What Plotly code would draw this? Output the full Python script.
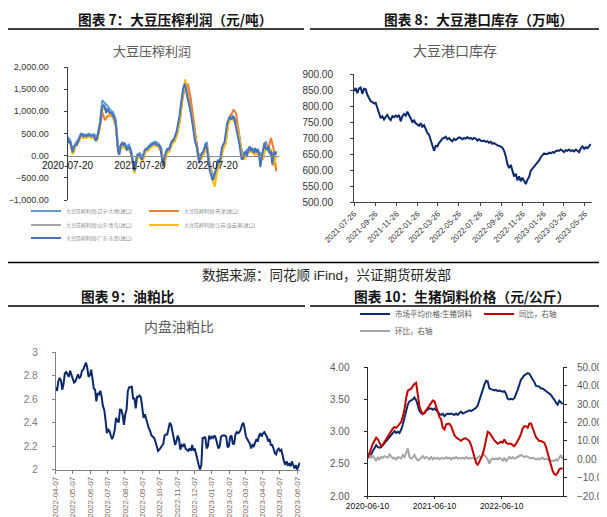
import pandas as pd
import plotly.graph_objects as go

W, H = 607, 517
FONT = "Liberation Sans, Noto Sans CJK SC, sans-serif"
CJK = "Noto Sans CJK SC, sans-serif"


def px(x):
    return x / W


def py(y):
    return 1 - y / H


# ---------------- 图表7：大豆压榨利润（元/吨）
crush_start, crush_end = "2020-07-20", "2023-06-09"
crush_names = ["大豆压榨利润:辽宁:大地(进口)", "大豆压榨利润:天津(进口)", "大豆压榨利润:山东:青岛(进口)",
               "大豆压榨利润:江苏:连云港(进口)", "大豆压榨利润:广东:东莞(进口)"]
crush_colors = ["#5b9bd5", "#ed7d31", "#a5a5a5", "#ffc000", "#4472c4"]
crush_liaoning = [430, 350, 110, 280, 360, 500, 470, 470, 500, 470, 480, 400, 700, 1250, 1180, 1120, 1030, 980, 820,
                  150, 250, 290, 210, 250, 60, -280, 10, 60, -50, 150, 190, 260, 300, 310, 270, 180, -200, 130, 170,
                  330, 400, 570, 880, 1400, 1650, 1360, 1100, 720, 340, 20, 20, 120, 310, -130, -390, -430, -240,
                  -120, 210, 340, 770, 920, 880, 780, 510, 140, -20, 130, 170, 160, 100, 140, 60, -10, 320, 180, 100,
                  -160, 70]
crush_tianjin = [370, 300, 50, 220, 300, 440, 400, 410, 440, 410, 420, 340, 600, 980, 800, 900, 900, 860, 700, 60,
                 180, 220, 140, 180, -20, -380, -60, -10, -120, 90, 120, 190, 230, 240, 200, 100, -260, 60, 100, 260,
                 330, 500, 800, 1300, 1550, 1620, 1300, 850, 300, -60, -60, 50, 250, -200, -470, -520, -310, -200,
                 140, 270, 700, 900, 1040, 950, 520, 60, -90, 60, 100, 90, 30, 80, 0, -90, 250, 150, 400, 150, -353]
crush_shandong = [380, 300, 60, 230, 310, 450, 420, 420, 450, 420, 430, 350, 640, 1060, 1080, 1030, 940, 900, 740,
                  80, 190, 230, 150, 190, 0, -350, -50, 0, -110, 100, 130, 200, 250, 260, 210, 120, -260, 70, 110,
                  280, 340, 510, 820, 1350, 1600, 1310, 1050, 670, 280, -40, -40, 60, 260, -190, -450, -490, -300,
                  -180, 150, 280, 710, 860, 820, 720, 450, 80, -70, 80, 110, 100, 40, 80, 0, -60, 260, 120, 40, -220,
                  60]
crush_jiangsu = [360, 280, 40, 210, 290, 430, 400, 400, 430, 400, 410, 330, 620, 1040, 1060, 1010, 920, 880, 720, 50,
                 170, 210, 130, 170, -30, -390, -80, -20, -140, 80, 110, 180, 230, 240, 190, 100, -280, 50, 90, 260,
                 320, 490, 800, 1330, 1720, 1290, 1030, 650, 260, -70, -70, 40, 240, -220, -500, -700, -330, -200,
                 130, 260, 690, 840, 800, 700, 430, 60, -90, 60, 90, 80, 20, 60, -20, -80, 240, 100, 150, -240, 40]
crush_guangdong = [399, 286, 323, 170, 75, 211, 248, 248, 330, 410, 470, 490, 436, 466, 440, 450, 470, 451, 440, 460,
                   450, 330, 376, 496, 662, 812, 1090, 1150, 1100, 963, 1060, 995, 963, 963, 920, 870, 760, 510, 100,
                   20, 211, 286, 248, 286, 173, 120, 211, 173, 23, -125, -330, -301, -30, 30, 20, -30, -90, 10, 110,
                   135, 150, 190, 220, 255, 265, 270, 280, 240, 230, 230, 140, -40, -241, -15, 90, 150, 135, 175, 300,
                   320, 360, 455, 530, 700, 850, 1090, 1376, 1514, 1624, 1527, 1330, 1226, 1075, 920, 690, 436, 300,
                   230, -15, -165, -20, 60, 80, 210, 280, 130, -165, -353, -429, -556, -466, -376, -278, -90, -165,
                   -53, 173, 248, 301, 511, 730, 810, 887, 810, 840, 887, 740, 610, 474, 300, 100, -90, -53, 60, 98, 0,
                   135, 211, 120, 150, 60, 173, 98, 120, 23, -256, -40, 100, 286, 160, 140, 211, 60, 80, -203, 80, 30,
                   98]
crush_series = [crush_liaoning, crush_tianjin, crush_shandong, crush_jiangsu, crush_guangdong]
crush_ticks = ["2020-07-20", "2021-07-20", "2022-07-20"]

# ---------------- 图表8：大豆港口库存（万吨）
stock_start, stock_end = "2021-07-26", "2023-06-12"
stock = [846, 856, 840, 855, 858, 838, 854, 852, 835, 825, 815, 812, 808, 810, 795, 775, 762, 768, 758, 766, 772, 762,
         756, 768, 765, 770, 766, 772, 752, 768, 775, 770, 782, 772, 760, 750, 755, 746, 742, 738, 746, 735, 740, 728,
         716, 710, 695, 675, 660, 675, 674, 684, 692, 698, 700, 704, 696, 700, 694, 690, 698, 694, 698, 702, 700, 696,
         700, 698, 703, 698, 700, 696, 700, 698, 692, 696, 692, 690, 692, 688, 690, 685, 688, 682, 684, 679, 677, 676,
         674, 670, 660, 643, 618, 606, 616, 594, 580, 588, 568, 580, 565, 576, 566, 556, 570, 578, 598, 604, 610, 616,
         622, 630, 640, 645, 652, 650, 650, 654, 652, 656, 654, 659, 661, 660, 664, 660, 656, 662, 660, 664, 659, 662,
         658, 664, 660, 656, 668, 674, 666, 671, 668, 676, 681]
stock_ticks = ["2021-07-26", "2021-09-26", "2021-11-26", "2022-01-26", "2022-03-26", "2022-05-26",
               "2022-07-26", "2022-09-26", "2022-11-26", "2023-01-26", "2023-03-26", "2023-05-26"]

# ---------------- 图表9：油粕比
ratio_start, ratio_end = "2022-04-07", "2023-06-11"
ratio = [2.70, 2.67, 2.75, 2.78, 2.76, 2.68, 2.73, 2.82, 2.83, 2.81, 2.79, 2.84, 2.81, 2.78, 2.74, 2.75, 2.78, 2.81,
         2.78, 2.79, 2.84, 2.85, 2.88, 2.91, 2.87, 2.79, 2.80, 2.85, 2.78, 2.69, 2.68, 2.58, 2.65, 2.64, 2.67, 2.62,
         2.54, 2.51, 2.42, 2.31, 2.34, 2.33, 2.29, 2.26, 2.29, 2.34, 2.44, 2.42, 2.40, 2.51, 2.51, 2.47, 2.38, 2.47,
         2.51, 2.67, 2.70, 2.70, 2.71, 2.60, 2.61, 2.52, 2.62, 2.62, 2.63, 2.61, 2.53, 2.44, 2.47, 2.42, 2.39, 2.35,
         2.33, 2.29, 2.28, 2.27, 2.24, 2.20, 2.16, 2.17, 2.19, 2.21, 2.22, 2.29, 2.30, 2.30, 2.34, 2.40, 2.38, 2.33,
         2.28, 2.21, 2.24, 2.29, 2.26, 2.17, 2.21, 2.20, 2.22, 2.18, 2.17, 2.16, 2.18, 2.16, 2.21, 2.16, 2.18, 2.13,
         2.07, 2.04, 2.00, 2.04, 2.27, 2.27, 2.28, 2.18, 2.20, 2.29, 2.26, 2.28, 2.27, 2.29, 2.27, 2.22, 2.18, 2.20,
         2.28, 2.29, 2.29, 2.29, 2.28, 2.19, 2.20, 2.28, 2.29, 2.22, 2.22, 2.30, 2.32, 2.31, 2.32, 2.34, 2.38, 2.40,
         2.35, 2.28, 2.26, 2.24, 2.22, 2.18, 2.21, 2.20, 2.24, 2.26, 2.24, 2.29, 2.31, 2.28, 2.31, 2.32, 2.30, 2.28,
         2.24, 2.26, 2.21, 2.21, 2.18, 2.14, 2.13, 2.17, 2.18, 2.16, 2.17, 2.10, 2.07, 2.04, 2.07, 2.04, 2.05, 2.03,
         2.07, 2.04, 2.01, 2.04, 2.00, 2.03, 2.06]
ratio_ticks = ["2022-04-07", "2022-05-07", "2022-06-07", "2022-07-07", "2022-08-07", "2022-09-07", "2022-10-07",
               "2022-11-07", "2022-12-07", "2023-01-07", "2023-02-07", "2023-03-07", "2023-04-07", "2023-05-07",
               "2023-06-07"]

# ---------------- 图表10：生猪饲料价格（元/公斤）
feed_start, feed_end = "2020-06-12", "2023-05-08"
feed_price = [2.59, 2.62, 2.65, 2.70, 2.74, 2.79, 2.76, 2.75, 2.76, 2.79, 2.83, 2.85, 2.88, 2.91, 2.95, 2.98, 3.01,
              2.98, 3.00, 2.98, 3.03, 3.11, 3.21, 3.32, 3.42, 3.47, 3.48, 3.50, 3.53, 3.49, 3.41, 3.32, 3.29, 3.27,
              3.29, 3.33, 3.34, 3.36, 3.36, 3.34, 3.36, 3.34, 3.31, 3.27, 3.26, 3.28, 3.24, 3.27, 3.28, 3.27, 3.28,
              3.27, 3.26, 3.28, 3.26, 3.29, 3.31, 3.28, 3.29, 3.31, 3.32, 3.33, 3.32, 3.34, 3.36, 3.37, 3.41, 3.48,
              3.58, 3.65, 3.73, 3.79, 3.78, 3.67, 3.66, 3.65, 3.64, 3.65, 3.63, 3.64, 3.63, 3.62, 3.63, 3.59, 3.51,
              3.50, 3.51, 3.50, 3.52, 3.58, 3.65, 3.73, 3.81, 3.84, 3.88, 3.89, 3.91, 3.90, 3.86, 3.82, 3.77, 3.71,
              3.70, 3.70, 3.67, 3.67, 3.65, 3.63, 3.62, 3.59, 3.57, 3.53, 3.50, 3.45, 3.42, 3.48, 3.46, 3.43]
feed_yoy = [1.0, 3.0, 5.9, 8.4, 10.2, 11.7, 10.8, 8.4, 7.1, 8.0, 9.5, 10.8, 12.0, 13.5, 14.9, 16.7, 17.4, 17.1, 18.0,
            18.9, 20.3, 23.4, 27.0, 33.4, 37.3, 37.9, 38.4, 39.7, 41.0, 41.5, 35.2, 28.8, 26.1, 24.7, 25.2, 26.5,
            27.9, 29.4, 30.7, 31.9, 31.5, 28.3, 24.7, 22.9, 21.6, 17.1, 16.2, 18.9, 19.3, 19.3, 18.0, 15.3, 13.1,
            12.0, 11.3, 10.8, 9.9, 10.8, 11.3, 11.3, 10.8, 9.9, 7.7, 4.4, 1.2, -1.9, -3.2, -1.4, 1.2, 2.6, 6.2,
            10.8, 14.9, 14.4, 12.6, 11.7, 10.2, 9.0, 8.4, 9.0, 9.5, 9.0, 10.8, 9.0, 8.4, 8.4, 8.4, 7.7, 7.1, 8.4,
            9.9, 11.7, 13.8, 16.7, 18.0, 18.0, 17.1, 19.3, 19.5, 16.2, 14.4, 12.0, 10.8, 9.9, 9.9, 9.5, 9.0, 6.6,
            3.5, -0.1, -3.7, -6.4, -8.2, -8.6, -7.3, -5.5, -5.0, -5.0]
feed_mom = [0.8, 2.3, 0.8, 1.7, 0.4, -1.0, 1.2, -0.1, 1.2, 0.8, 1.7, 1.2, 0.8, 2.6, 1.7, 0.4, 0.8, -0.1, 1.2, 0.8,
            0.4, 2.3, 1.2, 3.5, 5.9, 1.2, 0.3, 1.0, 2.3, 0.4, -0.7, -0.1, 0.8, 1.7, 0.4, 1.2, 0.8, -0.1, 1.2, -0.1,
            0.8, 0.3, 0.8, -0.1, 0.4, 0.8, 0.3, 1.2, 0.4, 0.8, -0.1, 0.8, 0.4, 1.2, 0.3, 0.8, 0.4, 0.8, 0.3, 1.2,
            0.4, 0.8, 0.3, 0.8, 0.4, -0.1, 0.8, 1.7, 0.8, 3.0, 2.3, 0.8, -0.1, -2.4, -0.1, 0.4, -0.1, 0.4, -0.1,
            0.8, 0.3, -0.7, 0.8, -1.0, 0.3, 1.2, 0.4, 1.2, 0.3, 0.8, 1.2, 1.7, 2.3, 1.7, 1.2, 1.7, 1.2, 0.8, 0.4,
            0.8, 0.4, -0.1, 0.3, -0.1, 0.4, 0.8, -0.1, 0.3, -0.1, -0.7, -1.0, -0.7, -1.0, -0.1, -0.7, 0.8, 2.3, -0.1]
feed_ticks = ["2020-06-10", "2021-06-10", "2022-06-10"]


def dates(start, end, n):
    return pd.date_range(start, end, periods=n)


fig = go.Figure()

# chart 7 lines; every legend entry gets its own little legend box so the 2-column grid can be placed
crush_legends = ["legend", "legend2", "legend3", "legend4", "legend5"]
for name, color, vals, lg in zip(crush_names, crush_colors, crush_series, crush_legends):
    fig.add_trace(go.Scatter(x=dates(crush_start, crush_end, len(vals)), y=vals, name=name, mode="lines",
                             line=dict(color=color, width=2), legend=lg, xaxis="x", yaxis="y"))

fig.add_trace(go.Scatter(x=dates(stock_start, stock_end, len(stock)), y=stock, mode="lines", showlegend=False,
                         line=dict(color="#0c2a6b", width=2), xaxis="x2", yaxis="y2"))

fig.add_trace(go.Scatter(x=dates(ratio_start, ratio_end, len(ratio)), y=ratio, mode="lines", showlegend=False,
                         line=dict(color="#0c2a6b", width=2), xaxis="x3", yaxis="y3"))

fig.add_trace(go.Scatter(x=dates(feed_start, feed_end, len(feed_mom)), y=feed_mom, name="环比，右轴", mode="lines",
                         line=dict(color="#a6a6a6", width=2), legend="legend8", xaxis="x4", yaxis="y5"))
fig.add_trace(go.Scatter(x=dates(feed_start, feed_end, len(feed_yoy)), y=feed_yoy, name="同比，右轴", mode="lines",
                         line=dict(color="#c00000", width=2), legend="legend7", xaxis="x4", yaxis="y5"))
fig.add_trace(go.Scatter(x=dates(feed_start, feed_end, len(feed_price)), y=feed_price, name="市场平均价格:生猪饲料",
                         mode="lines", line=dict(color="#0c2a6b", width=2), legend="legend6",
                         xaxis="x4", yaxis="y4"))

AX = dict(showgrid=False, zeroline=False, showline=True, linewidth=1, ticklen=3, automargin=False)
date_ax = dict(AX, type="date", tickformat="%Y-%m-%d")

legend_base = dict(orientation="h", xanchor="left", yanchor="middle", bgcolor="rgba(0,0,0,0)", itemwidth=30)
small = dict(family=CJK, size=5, color="#7f7f7f")
mid = dict(family=CJK, size=7.5, color="#595959")

fig.update_layout(
    width=W, height=H, autosize=False, margin=dict(l=0, r=0, t=0, b=0, autoexpand=False),
    paper_bgcolor="white", plot_bgcolor="white", font=dict(family=FONT, color="#404040"),
    # 图表7: x axis sits on the zero line
    xaxis=dict(date_ax, domain=[px(59.5), px(270.5)], anchor="free", position=py(148),
               range=["2020-07-20", "2023-06-20"], tickvals=crush_ticks, ticks="", linecolor="#8c8c8c",
               linewidth=1.2, tickfont=dict(size=10, color="#111111"), ticklabelstandoff=0),
    yaxis=dict(AX, domain=[py(192), py(59)], anchor="x", range=[-1000, 2000], dtick=500, tick0=0,
               tickformat=",.2f", ticks="outside", linecolor="#404040", tickcolor="#404040",
               tickfont=dict(size=9, color="#333333"), ticklabelstandoff=13),
    # 图表8
    xaxis2=dict(date_ax, domain=[px(346), px(583.5)], anchor="y2", range=["2021-07-26", "2023-06-14"],
                tickvals=stock_ticks, ticks="outside", tickangle=-45, linecolor="#404040", tickcolor="#404040",
                tickfont=dict(size=8, color="#333333")),
    yaxis2=dict(AX, domain=[py(194), py(66)], anchor="x2", range=[500, 900], dtick=50, tickformat=".2f",
                ticks="outside", linecolor="#404040", tickcolor="#404040",
                tickfont=dict(size=10, color="#333333"), ticklabelstandoff=15),
    # 图表9
    xaxis3=dict(date_ax, domain=[px(47.7), px(292.3)], anchor="y3", range=["2022-04-07", "2023-06-12"],
                tickvals=ratio_ticks, ticks="outside", tickangle=-90, linecolor="#7f7f7f", tickcolor="#7f7f7f",
                tickfont=dict(size=8, color="#7b6a5a")),
    yaxis3=dict(AX, domain=[py(461.7), py(344)], anchor="x3", range=[2, 3], dtick=0.2, tick0=2,
                ticks="outside", linecolor="#7f7f7f", tickcolor="#7f7f7f",
                tickfont=dict(size=10, color="#7b7b7b"), ticklabelstandoff=12),
    # 图表10
    xaxis4=dict(date_ax, domain=[px(359.5), px(555)], anchor="y4", range=["2020-06-10", "2023-05-10"],
                tickvals=feed_ticks, ticks="outside", ticklen=2, linecolor="#262626", tickcolor="#262626",
                tickfont=dict(size=8.5, color="#111111")),
    yaxis4=dict(AX, domain=[py(488), py(359.3)], anchor="x4", range=[2, 4], dtick=0.5, tickformat=".2f",
                ticks="outside", linecolor="#262626", tickcolor="#262626",
                tickfont=dict(size=10, color="#595959"), ticklabelstandoff=12),
    yaxis5=dict(AX, overlaying="y4", side="right", anchor="x4", range=[-20, 50], dtick=10, tickformat=".2f",
                ticks="outside", linecolor="#262626", tickcolor="#262626",
                tickfont=dict(size=10, color="#595959"), ticklabelstandoff=8),
    legend=dict(legend_base, x=px(18), y=py(203), font=small),
    legend2=dict(legend_base, x=px(136), y=py(203), font=small),
    legend3=dict(legend_base, x=px(18), y=py(217), font=small),
    legend4=dict(legend_base, x=px(136), y=py(217), font=small),
    legend5=dict(legend_base, x=px(18), y=py(230), font=small),
    legend6=dict(legend_base, x=px(347), y=py(306), font=mid),
    legend7=dict(legend_base, x=px(471), y=py(306), font=mid),
    legend8=dict(legend_base, x=px(347), y=py(323), font=mid),
)

# headers, rules and chart titles
rules = [(0, 296, 21), (302, 607, 21), (0, 607, 254.5), (0, 297, 298), (302, 607, 298)]
for x0, x1, y in rules:
    fig.add_shape(type="line", xref="paper", yref="paper", x0=px(x0), x1=px(x1), y0=py(y), y1=py(y),
                  line=dict(color="black", width=1.3))

texts = [
    ("<b>图表 7：大豆压榨利润（元/吨）</b>", 167, 11, 13.7, "#111111", CJK),
    ("<b>图表 8：大豆港口库存（万吨）</b>", 470, 11, 13.7, "#111111", CJK),
    ("<b>图表 9：油粕比</b>", 120, 288, 13.7, "#111111", CJK),
    ("<b>图表 10：生猪饲料价格（元/公斤）</b>", 454, 288, 13.7, "#111111", CJK),
    ("数据来源：同花顺 iFind，兴证期货研发部", 318, 267, 13.5, "#262626", FONT),
    ("大豆压榨利润", 144, 42, 13, "#595959", CJK),
    ("大豆港口库存", 447, 42, 14, "#595959", CJK),
    ("内盘油粕比", 171, 318, 14, "#595959", CJK),
]
for txt, x, y, size, color, family in texts:
    fig.add_annotation(text=txt, x=px(x), y=py(y), xref="paper", yref="paper", showarrow=False,
                       xanchor="center", yanchor="middle", font=dict(family=family, size=size, color=color))

fig.write_html("out.html")
